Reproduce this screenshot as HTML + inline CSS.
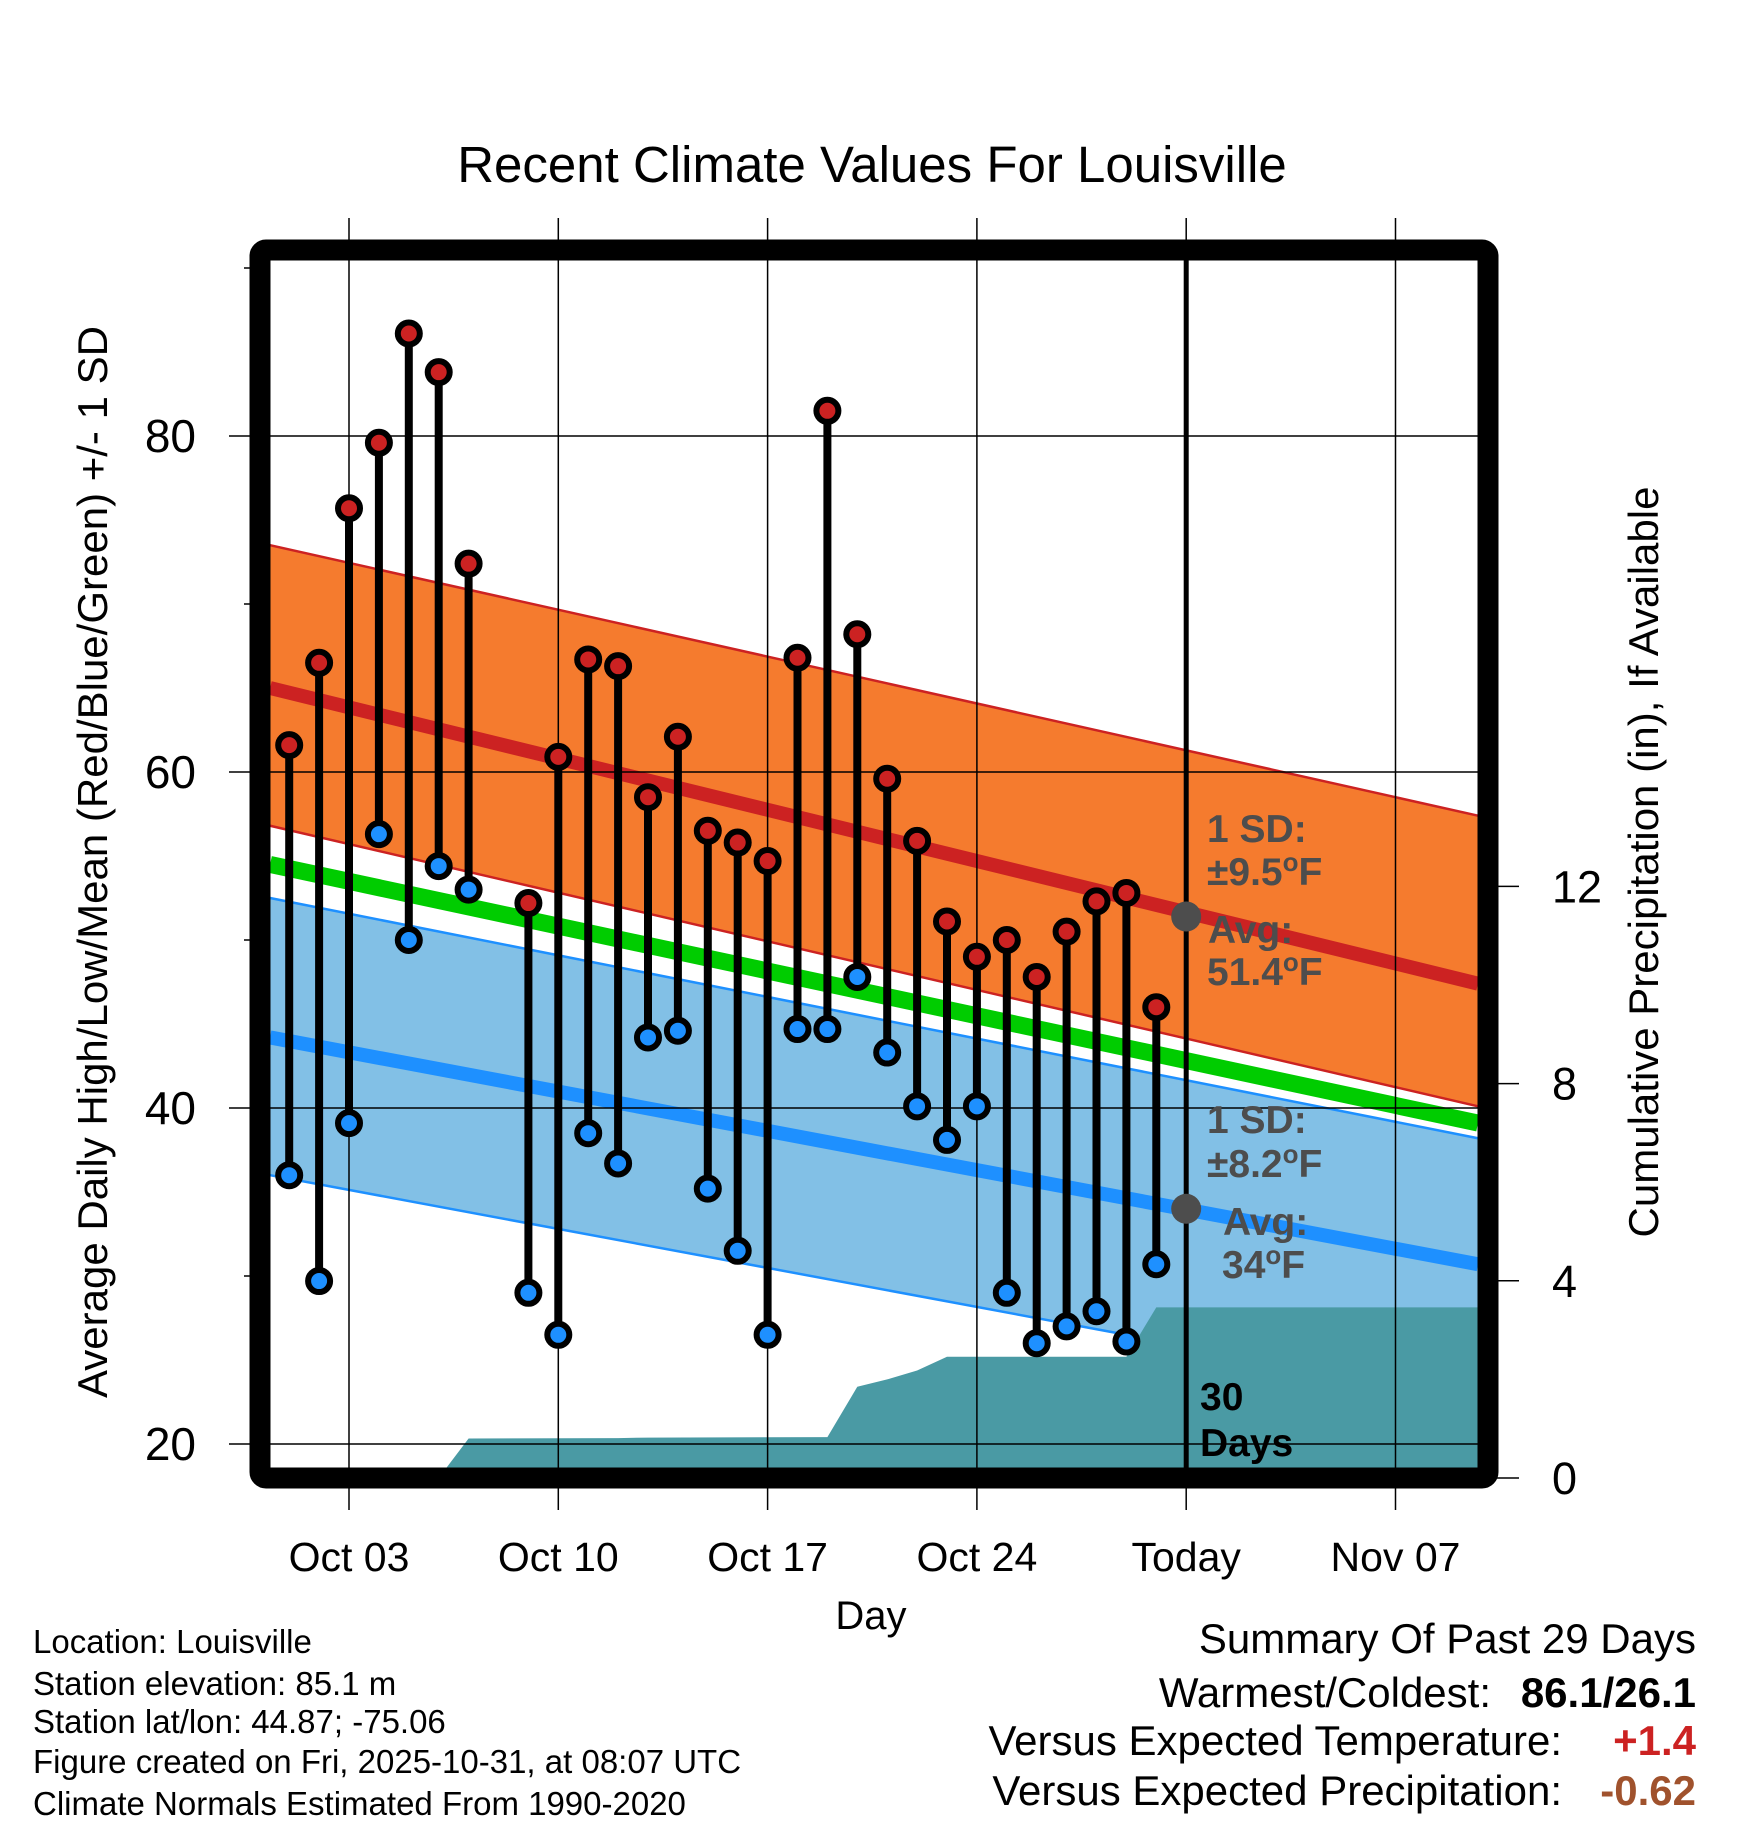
<!DOCTYPE html>
<html><head><meta charset="utf-8">
<style>
html,body{margin:0;padding:0;background:#fff;}
svg{display:block;font-family:"Liberation Sans",sans-serif;}
</style></head>
<body>
<svg id="chart" width="1748" height="1828" viewBox="0 0 1748 1828" xmlns="http://www.w3.org/2000/svg">
<defs><clipPath id="plotclip"><rect x="260" y="250" width="1228" height="1228"/></clipPath></defs>
<text x="872" y="182" font-size="51" text-anchor="middle">Recent Climate Values For Louisville</text>
<g id="bands" clip-path="url(#plotclip)"></g>
<g id="grid"></g>
<g id="marks"></g>
<rect x="260" y="250" width="1228" height="1228" fill="none" stroke="#000" stroke-width="21" rx="6"/>
<g id="axes"></g>
<g fill="#4d4d4d" font-weight="bold" font-size="39">
<text x="1207" y="842">1 SD:</text>
<text x="1207" y="885">±9.5<tspan font-size="26" dy="-14">o</tspan><tspan dy="14">F</tspan></text>
<text x="1208" y="943">Avg:</text>
<text x="1207" y="985">51.4<tspan font-size="26" dy="-14">o</tspan><tspan dy="14">F</tspan></text>
</g>
<g fill="#4d4d4d" font-weight="bold" font-size="39">
<text x="1207" y="1133">1 SD:</text>
<text x="1207" y="1177">±8.2<tspan font-size="26" dy="-14">o</tspan><tspan dy="14">F</tspan></text>
<text x="1223" y="1235">Avg:</text>
<text x="1222" y="1278">34<tspan font-size="26" dy="-14">o</tspan><tspan dy="14">F</tspan></text>
</g>
<g font-weight="bold" font-size="39">
<text x="1200" y="1410">30</text>
<text x="1200" y="1456">Days</text>
</g>
<text x="871" y="1629" font-size="40" text-anchor="middle">Day</text>
<text transform="translate(107,862) rotate(-90)" font-size="42" text-anchor="middle">Average Daily High/Low/Mean (Red/Blue/Green) +/- 1 SD</text>
<text transform="translate(1658,862) rotate(-90)" font-size="42" text-anchor="middle">Cumulative Precipitation (in), If Available</text>
<g font-size="33">
<text x="33" y="1653">Location: Louisville</text>
<text x="33" y="1695">Station elevation: 85.1 m</text>
<text x="33" y="1733">Station lat/lon: 44.87; -75.06</text>
<text x="33" y="1773">Figure created on Fri, 2025-10-31, at 08:07 UTC</text>
<text x="33" y="1815">Climate Normals Estimated From 1990-2020</text>
</g>
<g font-size="42">
<text x="1696" y="1653" text-anchor="end">Summary Of Past 29 Days</text>
<text x="1491" y="1707" text-anchor="end">Warmest/Coldest:</text>
<text x="1696" y="1707" text-anchor="end" font-weight="bold">86.1/26.1</text>
<text x="1562" y="1755" text-anchor="end">Versus Expected Temperature:</text>
<text x="1696" y="1755" text-anchor="end" font-weight="bold" fill="#cc2222">+1.4</text>
<text x="1562" y="1805" text-anchor="end">Versus Expected Precipitation:</text>
<text x="1696" y="1805" text-anchor="end" font-weight="bold" fill="#a0522d">-0.62</text>
</g>
</svg>
<script>
// days relative to Oct 03
const obsDays = [1,2,3,4,5,6,7,9,10,11,12,13,14,15,16,17,18,19,20,21,22,23,24,25,26,27,28,29,30];
const highs = [61.6,66.5,75.7,79.6,86.1,83.8,72.4,52.2,60.9,66.7,66.3,58.5,62.1,56.5,55.8,54.7,66.8,81.5,68.2,59.6,55.9,51.1,49.0,50.0,47.8,50.5,52.3,52.8,46.0];
const lows = [36.0,29.7,39.1,56.3,50.0,54.4,53.0,29.0,26.5,38.5,36.7,44.2,44.6,35.2,31.5,26.5,44.7,44.7,47.8,43.3,40.1,38.1,40.1,29.0,26.0,27.0,27.9,26.1,30.7];
const normDays = [-2.64, 37.76];
const normHigh = [65.0, 47.4];
const highUpper = [73.5, 57.4];
const highLower = [56.8, 40.1];
const normLow = [44.2, 30.7];
const lowUpper = [52.5, 38.2];
const lowLower = [36.0, 22.6];
const normMean = [54.5, 39.1];
const precipDays = [3,4,9,10,16,17,18,19,20,26,27,37.76];
const precipVals = [0,0.8,0.81,0.82,0.83,1.85,2.0,2.18,2.46,2.46,3.46,3.46];
const xTickDays = [0,7,14,21,28,35];
const xTickLabels = ["Oct 03","Oct 10","Oct 17","Oct 24","Today","Nov 07"];
const yTicks = [20,40,60,80];
const yMinorTicks = [30,50,70,90];
const y2Ticks = [0,4,8,12];
const todayDay = 28;
const todayHigh = 51.4, todayLow = 34;

const NS = "http://www.w3.org/2000/svg";
function xd(d){ return 349 + d*29.9; }
function ty(v){ return 1444 - (v-20)*16.8; }
function py(p){ return 1478 - p*49.3; }
function mk(tag, attrs, parent){
  const e = document.createElementNS(NS, tag);
  for (const k in attrs) e.setAttribute(k, attrs[k]);
  parent.appendChild(e); return e;
}
const bands = document.getElementById('bands');
const grid = document.getElementById('grid');
const marks = document.getElementById('marks');
const axes = document.getElementById('axes');

function bandPts(up, lo){
  return `${xd(normDays[0])},${ty(up[0])} ${xd(normDays[1])},${ty(up[1])} ${xd(normDays[1])},${ty(lo[1])} ${xd(normDays[0])},${ty(lo[0])}`;
}
let e;
e = mk('polygon',{points:bandPts(lowUpper,lowLower),fill:'#82c0e6'},bands);
 
e = mk('polygon',{points:bandPts(highUpper,highLower),fill:'#f57b2e'},bands);
 
function nline(arr, color, w, name){
  const l = mk('line',{x1:xd(normDays[0]),y1:ty(arr[0]),x2:xd(normDays[1]),y2:ty(arr[1]),stroke:color,'stroke-width':w},bands);
   
}
nline(lowUpper,'#1e90ff',2.5,'low-sd-upper-edge');
nline(lowLower,'#1e90ff',2.5,'low-sd-lower-edge');
nline(highUpper,'#cc2222',2.5,'high-sd-upper-edge');
nline(highLower,'#cc2222',2.5,'high-sd-lower-edge');
nline(normMean,'#00cc00',17,'normal-mean-line');
nline(normHigh,'#cc2222',14,'normal-high-line');
nline(normLow,'#1e90ff',14,'normal-low-line');
let pts = `${xd(precipDays[0])},${py(0)}`;
for (let i=0;i<precipDays.length;i++) pts += ` ${xd(precipDays[i])},${py(precipVals[i])}`;
pts += ` ${xd(precipDays[precipDays.length-1])},${py(0)}`;
e = mk('polygon',{points:pts,fill:'#4a9aa4'},bands);
 

xTickDays.forEach((d,i)=>{
  const g = mk('line',{x1:xd(d),y1:218,x2:xd(d),y2:1510,stroke:'#000','stroke-width':1.5},grid);
   
  const t = mk('text',{x:xd(d),y:1571,'font-size':41,'text-anchor':'middle'},axes);
  t.textContent = xTickLabels[i];
   
});
yTicks.forEach(v=>{
  const g = mk('line',{x1:229,y1:ty(v),x2:1488,y2:ty(v),stroke:'#000','stroke-width':1.5},grid);
   
  const t = mk('text',{x:196,y:ty(v)+16,'font-size':46,'text-anchor':'end'},axes);
  t.textContent = v;
   
});
yMinorTicks.forEach(v=>{
  const g = mk('line',{x1:244,y1:ty(v),x2:262,y2:ty(v),stroke:'#000','stroke-width':1.5},grid);
   
});
y2Ticks.forEach(p=>{
  const g = mk('line',{x1:1488,y1:py(p),x2:1519,y2:py(p),stroke:'#000','stroke-width':1.5},axes);
   
  const t = mk('text',{x:1552,y:py(p)+16,'font-size':45},axes);
  t.textContent = p;
   
});
e = mk('line',{x1:xd(todayDay),y1:260,x2:xd(todayDay),y2:1468,stroke:'#000','stroke-width':5},grid);
 
e = mk('circle',{cx:xd(todayDay),cy:ty(todayHigh),r:15,fill:'#4d4d4d'},grid);
 
e = mk('circle',{cx:xd(todayDay),cy:ty(todayLow),r:15,fill:'#4d4d4d'},grid);
 

obsDays.forEach((day,i)=>{
  const x = xd(day-3);
  const s = mk('line',{x1:x,y1:ty(highs[i]),x2:x,y2:ty(lows[i]),stroke:'#000','stroke-width':8},marks);
   
});
obsDays.forEach((day,i)=>{
  const x = xd(day-3);
  const h = mk('circle',{cx:x,cy:ty(highs[i]),r:11,fill:'#cc2222',stroke:'#000','stroke-width':6},marks);
   
  const l = mk('circle',{cx:x,cy:ty(lows[i]),r:11,fill:'#1e90ff',stroke:'#000','stroke-width':6},marks);
   
});
</script>
</body></html>
